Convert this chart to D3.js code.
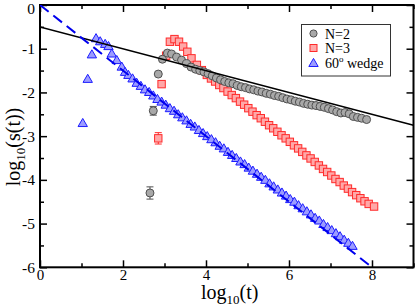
<!DOCTYPE html>
<html><head><meta charset="utf-8">
<script src="https://cdn.jsdelivr.net/npm/d3@7"></script>
<style>
html,body{margin:0;padding:0;background:#fff;}
svg{display:block;font-family:"Liberation Serif","Times New Roman",serif;}
</style></head>
<body><svg id="c" width="415" height="307"></svg>
<script>
// ---- data ----
const xTicks = [0, 2, 4, 6, 8];
const yTicks = [0, -1, -2, -3, -4, -5, -6];
const xMinor = [1, 3, 5, 7, 9];
const yMinor = [-0.5, -1.5, -2.5, -3.5, -4.5, -5.5];
const seriesNames = ["N=2", "N=3", "60° wedge"];
// N=2 (grey circles): [log10 t, log10 s, error]
const n2 = [
 [2.65,-4.30,0.14],[2.73,-2.42,0.10],[2.85,-1.58,0],[2.95,-1.24,0],[3.07,-1.10,0],[3.17,-1.12,0],
 [3.29,-1.19,0],[3.41,-1.26,0],[3.53,-1.34,0],[3.64,-1.42,0],[3.75,-1.47,0],[3.85,-1.50,0],
 [3.95,-1.53,0],[4.05,-1.57,0],[4.15,-1.62,0],[4.25,-1.67,0],[4.35,-1.71,0],[4.45,-1.75,0],
 [4.55,-1.78,0],[4.65,-1.80,0],[4.75,-1.84,0],[4.85,-1.87,0],[4.95,-1.89,0],[5.05,-1.92,0],
 [5.15,-1.94,0],[5.25,-1.97,0],[5.35,-1.99,0],[5.45,-2.02,0],[5.55,-2.04,0],[5.65,-2.07,0],
 [5.75,-2.09,0],[5.85,-2.12,0],[5.95,-2.15,0],[6.05,-2.17,0],[6.15,-2.20,0],[6.25,-2.22,0],
 [6.35,-2.25,0],[6.45,-2.27,0],[6.55,-2.29,0],[6.65,-2.30,0],[6.75,-2.32,0],[6.85,-2.34,0],
 [6.95,-2.37,0],[7.05,-2.40,0],[7.15,-2.44,0],[7.25,-2.47,0],[7.35,-2.46,0],[7.45,-2.49,0],
 [7.55,-2.55,0],[7.65,-2.57,0],[7.75,-2.59,0],[7.87,-2.62,0]
];
// N=3 (red squares)
const n3 = [
 [2.85,-3.05,0.13],[2.93,-1.81,0],[3.04,-1.16,0],[3.13,-0.84,0],[3.24,-0.78,0],[3.35,-0.84,0],
 [3.45,-0.95,0],[3.55,-1.07,0],[3.65,-1.22,0],[3.78,-1.37,0],[3.90,-1.49,0],[4.02,-1.60,0],
 [4.12,-1.68,0],[4.22,-1.75,0],[4.32,-1.83,0],[4.42,-1.90,0],[4.52,-1.98,0],[4.62,-2.06,0],
 [4.72,-2.13,0],[4.82,-2.21,0],[4.92,-2.28,0],[5.02,-2.36,0],[5.12,-2.44,0],[5.22,-2.52,0],
 [5.32,-2.59,0],[5.42,-2.67,0],[5.52,-2.75,0],[5.62,-2.82,0],[5.72,-2.90,0],[5.82,-2.98,0],
 [5.92,-3.05,0],[6.02,-3.13,0],[6.12,-3.21,0],[6.22,-3.28,0],[6.32,-3.36,0],[6.42,-3.44,0],
 [6.52,-3.51,0],[6.62,-3.59,0],[6.72,-3.67,0],[6.82,-3.75,0],[6.92,-3.82,0],[7.02,-3.90,0],
 [7.12,-3.98,0],[7.22,-4.05,0],[7.32,-4.13,0],[7.42,-4.20,0],[7.52,-4.28,0],[7.62,-4.35,0],
 [7.72,-4.42,0],[7.82,-4.49,0],[7.92,-4.55,0],[8.05,-4.61,0]
];
// 60 degree wedge (blue triangles)
const wedge = [
 [1.03,-2.70],[1.15,-1.69],[1.25,-1.13],[1.35,-0.76],[1.45,-0.83],[1.57,-0.89],[1.65,-0.94],
 [1.73,-1.11],[1.85,-1.26],[1.97,-1.41],[2.05,-1.53],[2.13,-1.60],[2.23,-1.68],[2.33,-1.78],
 [2.43,-1.85],[2.53,-1.93],[2.63,-1.99],[2.73,-2.07],[2.83,-2.15],[2.93,-2.21],[3.03,-2.28],
 [3.13,-2.36],[3.23,-2.42],[3.33,-2.50],[3.43,-2.57],[3.53,-2.64],[3.63,-2.72],[3.73,-2.78],
 [3.83,-2.86],[3.93,-2.93],[4.03,-3.00],[4.13,-3.07],[4.23,-3.14],[4.33,-3.22],[4.43,-3.28],
 [4.53,-3.36],[4.63,-3.43],[4.73,-3.50],[4.83,-3.58],[4.93,-3.64],[5.03,-3.72],[5.13,-3.79],
 [5.23,-3.86],[5.33,-3.93],[5.43,-4.00],[5.53,-4.08],[5.63,-4.15],[5.73,-4.22],[5.83,-4.29],
 [5.93,-4.36],[6.03,-4.44],[6.13,-4.50],[6.23,-4.58],[6.33,-4.65],[6.43,-4.72],[6.53,-4.79],
 [6.63,-4.87],[6.73,-4.93],[6.83,-5.01],[6.93,-5.08],[7.03,-5.15],[7.13,-5.22],[7.23,-5.29],
 [7.33,-5.37],[7.43,-5.44],[7.53,-5.51]
];
// fit lines: [x0,y0],[x1,y1]
const solidFit = [[0,-0.5],[9,-2.75]];
const dashedFit = [[0,0],[8,-6]];

// ---- drawing ----
const svg = d3.select("#c");
const L=40, R=413.5, T=5, B=267.3;
const x = d3.scaleLinear().domain([0,9]).range([L,R]);
const y = d3.scaleLinear().domain([-6,0]).range([B,T]);

svg.append("clipPath").attr("id","clip").append("rect").attr("x",L).attr("y",T).attr("width",R-L).attr("height",B-T);

function axisStyle(sel){ sel.select(".domain").remove(); sel.selectAll("line").attr("stroke","#000").attr("stroke-width",1.5); }

const ax = svg.append("g").attr("transform",`translate(0,${B})`)
  .call(d3.axisBottom(x).tickValues(xTicks).tickSize(-7).tickPadding(2).tickFormat(d3.format("d")));
axisStyle(ax);
ax.selectAll("text").attr("font-size",15).attr("font-family","Liberation Serif").attr("fill","#000").attr("dy","0.74em");
const axm = svg.append("g").attr("transform",`translate(0,${B})`)
  .call(d3.axisBottom(x).tickValues(xMinor).tickSize(-4).tickFormat(""));
axisStyle(axm);
const axt = svg.append("g").attr("transform",`translate(0,${T})`)
  .call(d3.axisTop(x).tickValues(xTicks).tickSize(-7).tickFormat(""));
axisStyle(axt);
const axtm = svg.append("g").attr("transform",`translate(0,${T})`)
  .call(d3.axisTop(x).tickValues(xMinor).tickSize(-4).tickFormat(""));
axisStyle(axtm);

const ay = svg.append("g").attr("transform",`translate(${L},0)`)
  .call(d3.axisLeft(y).tickValues(yTicks).tickSize(-7).tickPadding(5).tickFormat(d => d===0 ? "0" : "-" + Math.abs(d)));
axisStyle(ay);
ay.selectAll("text").attr("font-size",15.5).attr("font-family","Liberation Serif").attr("fill","#000")
  .attr("dy", d => d===0 ? "0.55em" : "0.32em");
const aym = svg.append("g").attr("transform",`translate(${L},0)`)
  .call(d3.axisLeft(y).tickValues(yMinor).tickSize(-4).tickFormat(""));
axisStyle(aym);
const ayr = svg.append("g").attr("transform",`translate(${R},0)`)
  .call(d3.axisRight(y).tickValues(yTicks).tickSize(-7).tickFormat(""));
axisStyle(ayr);
const ayrm = svg.append("g").attr("transform",`translate(${R},0)`)
  .call(d3.axisRight(y).tickValues(yMinor).tickSize(-4).tickFormat(""));
axisStyle(ayrm);

svg.append("rect").attr("x",L).attr("y",T).attr("width",R-L).attr("height",B-T)
  .attr("fill","none").attr("stroke","#000").attr("stroke-width",2);

const plot = svg.append("g").attr("clip-path","url(#clip)");
const line = d3.line().x(d=>x(d[0])).y(d=>y(d[1]));

const circleFill="#a8a8a8", circleStroke="#505050";
const sqFill="#ffa8a8", sqStroke="#ff2a2a";
const triFill="#9c9cff", triStroke="#1c1cff";

function errBars(data, color){
  const e = data.filter(d=>d[2]>0);
  const gg = plot.append("g").attr("stroke",color).attr("stroke-width",1);
  gg.selectAll("line.v").data(e).join("line").attr("x1",d=>x(d[0])).attr("x2",d=>x(d[0]))
    .attr("y1",d=>y(d[1]-d[2])).attr("y2",d=>y(d[1]+d[2]));
  gg.selectAll("line.t").data(e).join("line").attr("x1",d=>x(d[0])-3.5).attr("x2",d=>x(d[0])+3.5)
    .attr("y1",d=>y(d[1]+d[2])).attr("y2",d=>y(d[1]+d[2]));
  gg.selectAll("line.b").data(e).join("line").attr("x1",d=>x(d[0])-3.5).attr("x2",d=>x(d[0])+3.5)
    .attr("y1",d=>y(d[1]-d[2])).attr("y2",d=>y(d[1]-d[2]));
}
errBars(n2, "#505050");
errBars(n3, "#ff2a2a");

const triPath = d3.symbol().type(d3.symbolTriangle).size(38);
plot.append("g").selectAll("path").data(wedge).join("path")
  .attr("d",triPath).attr("transform",d=>`translate(${x(d[0])},${y(d[1])+0.8})`)
  .attr("fill",triFill).attr("stroke",triStroke).attr("stroke-width",1);

plot.append("g").selectAll("rect").data(n3).join("rect")
  .attr("x",d=>x(d[0])-3.7).attr("y",d=>y(d[1])-3.7).attr("width",7.4).attr("height",7.4)
  .attr("fill",sqFill).attr("stroke",sqStroke).attr("stroke-width",1);

plot.append("g").selectAll("circle").data(n2).join("circle")
  .attr("cx",d=>x(d[0])).attr("cy",d=>y(d[1])).attr("r",4)
  .attr("fill",circleFill).attr("stroke",circleStroke).attr("stroke-width",1);

plot.append("path").datum(solidFit).attr("d",line).attr("fill","none").attr("stroke","#000").attr("stroke-width",1.5);
plot.append("path").datum(dashedFit).attr("d",line).attr("fill","none").attr("stroke","#0000ee").attr("stroke-width",2).attr("stroke-dasharray","11,6");

// legend
const lg = svg.append("g");
lg.append("rect").attr("x",301.5).attr("y",24.5).attr("width",89).attr("height",51.5)
  .attr("fill","#fff").attr("stroke","#333").attr("stroke-width",1);
const ly = [33.5, 48, 63];
lg.append("circle").attr("cx",313.5).attr("cy",ly[0]).attr("r",3.6).attr("fill",circleFill).attr("stroke",circleStroke);
lg.append("rect").attr("x",310).attr("y",ly[1]-3.5).attr("width",7).attr("height",7).attr("fill",sqFill).attr("stroke",sqStroke);
lg.append("path").attr("d",triPath).attr("transform",`translate(313.5,${ly[2]+0.8})`).attr("fill",triFill).attr("stroke",triStroke);
seriesNames.forEach((s,i)=>{
  const t = lg.append("text").attr("x",325).attr("y",ly[i]+5).attr("font-size",14).attr("fill","#000");
  if (s.includes("°")) {
    const [a,b] = s.split("°");
    t.append("tspan").text(a);
    t.append("tspan").text("o").attr("font-size",9).attr("dy",-6);
    t.append("tspan").text(b).attr("dy",6);
  } else t.text(s);
});

// axis titles
const xt = svg.append("text").attr("x",201).attr("y",299).attr("font-size",20).attr("fill","#000");
xt.append("tspan").text("log");
xt.append("tspan").text("10").attr("font-size",13).attr("dy",5);
xt.append("tspan").text("(t)").attr("dy",-5);

const yt = svg.append("text").attr("transform","translate(20,147) rotate(-90)").attr("text-anchor","middle")
  .attr("font-size",20).attr("fill","#000");
yt.append("tspan").text("log");
yt.append("tspan").text("10").attr("font-size",13).attr("dy",5);
yt.append("tspan").text("(s(t))").attr("dy",-5);
</script></body></html>
